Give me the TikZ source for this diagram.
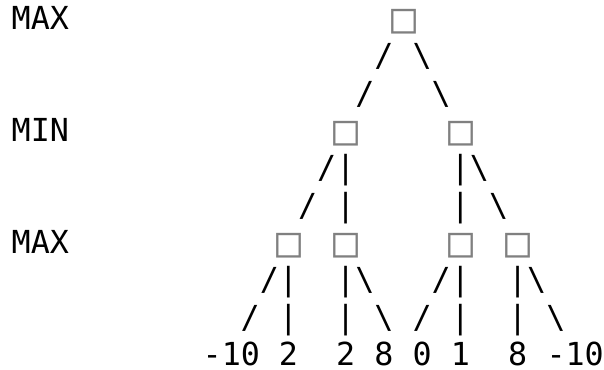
\documentclass[tikz,border=0pt]{standalone}
\usepackage{fontspec}
\newfontfamily\monofnt{DejaVu Sans Mono}
\newcommand\pc[4]{\node[txt] (#1) at ({11.5+19.1*(#2+0.5)},{29.5+37.35*#3}) {#4};}
\newcommand\psq[3]{\node[sqr] (#1) at ({12+19.1*(#2+0.5)},{21.5+37.35*#3}) {□};}
\newcommand\pw[4]{\node[txt,anchor=base west] (#1) at ({11.5+19.1*#2},{29.5+37.35*#3}) {#4};}
\tikzset{
  txt/.style={font=\monofnt\fontsize{31.7}{37.4}\selectfont, inner sep=0pt, anchor=base, text=black},
  sqr/.style={font=\monofnt\fontsize{41.5}{45}\selectfont, inner sep=0pt, anchor=center, text=black!50}
}
\begin{document}
\begin{tikzpicture}[x=1pt,y=-1pt]
\useasboundingbox (0,0) rectangle (604,369);
% line 0
\pw{l0}{0}{0}{MAX}
\psq{n0}{20}{0}
% line 1
\pc{a1}{19}{1}{/}
\pc{b1}{21}{1}{\textbackslash}
% line 2
\pc{a2}{18}{2}{/}
\pc{b2}{22}{2}{\textbackslash}
% line 3
\pw{l3}{0}{3}{MIN}
\psq{n1}{17}{3}
\psq{n2}{23}{3}
% line 4
\pc{a4}{16}{4}{/}
\pc{b4}{17}{4}{|}
\pc{c4}{23}{4}{|}
\pc{d4}{24}{4}{\textbackslash}
% line 5
\pc{a5}{15}{5}{/}
\pc{b5}{17}{5}{|}
\pc{c5}{23}{5}{|}
\pc{d5}{25}{5}{\textbackslash}
% line 6
\pw{l6}{0}{6}{MAX}
\psq{n3}{14}{6}
\psq{n4}{17}{6}
\psq{n5}{23}{6}
\psq{n6}{26}{6}
% line 7
\pc{a7}{13}{7}{/}
\pc{b7}{14}{7}{|}
\pc{c7}{17}{7}{|}
\pc{d7}{18}{7}{\textbackslash}
\pc{e7}{22}{7}{/}
\pc{f7}{23}{7}{|}
\pc{g7}{26}{7}{|}
\pc{h7}{27}{7}{\textbackslash}
% line 8
\pc{a8}{12}{8}{/}
\pc{b8}{14}{8}{|}
\pc{c8}{17}{8}{|}
\pc{d8}{19}{8}{\textbackslash}
\pc{e8}{21}{8}{/}
\pc{f8}{23}{8}{|}
\pc{g8}{26}{8}{|}
\pc{h8}{28}{8}{\textbackslash}
% line 9
\pw{v1}{10}{9}{-10}
\pc{v2}{14}{9}{2}
\pc{v3}{17}{9}{2}
\pc{v4}{19}{9}{8}
\pc{v5}{21}{9}{0}
\pc{v6}{23}{9}{1}
\pc{v7}{26}{9}{8}
\pw{v8}{28}{9}{-10}
\end{tikzpicture}
\end{document}
